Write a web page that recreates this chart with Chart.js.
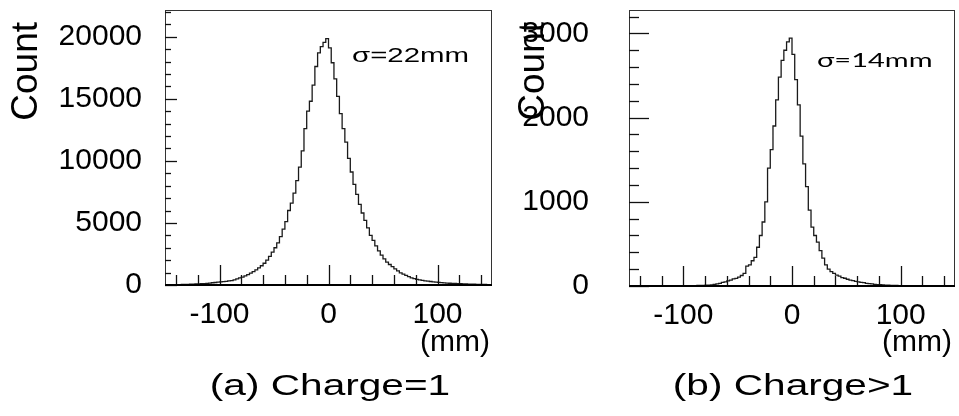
<!DOCTYPE html>
<html>
<head>
<meta charset="utf-8">
<script src="https://cdn.jsdelivr.net/npm/chart.js@4.4.1/dist/chart.umd.min.js"></script>
<style>
  html, body { margin: 0; padding: 0; background: #fff; }
  #wrap { position: relative; width: 959px; height: 416px; overflow: hidden; }
  #cA { position: absolute; left: 0; top: 0; }
  #cB { position: absolute; left: 490px; top: 0; }
</style>
</head>
<body>
<div id="wrap">
  <canvas id="cA" width="500" height="416"></canvas>
  <canvas id="cB" width="469" height="416"></canvas>
</div>
<script>
// Histogram binning: 120 bins of 2.5 mm from -150 to +150 mm
const BIN_LO = -150;
const BIN_W = 2.5;

// (a) Charge = 1 : counts per bin
const countsA = [
  10, 15, 20, 20, 25, 30, 35, 40, 50, 55,
  60, 70, 80, 90, 100, 110, 130, 150, 180, 200,
  230, 250, 270, 300, 330, 360, 410, 490, 570, 640,
  740, 840, 950, 1080, 1220, 1380, 1550, 1750, 2000, 2300,
  2650, 3000, 3400, 3900, 4500, 5100, 6000, 6600, 7400, 8400,
  9500, 10800, 12600, 14000, 14800, 16100, 17600, 18700, 19200, 19550,
  19850, 19100, 17900, 16600, 15200, 13800, 12600, 11500, 10200, 9100,
  8100, 7300, 6500, 5800, 5200, 4600, 4000, 3600, 3150, 2750,
  2400, 2100, 1850, 1650, 1480, 1300, 1140, 980, 870, 770,
  670, 580, 510, 460, 420, 380, 340, 310, 280, 250,
  230, 210, 190, 170, 150, 140, 130, 120, 110, 100,
  90, 85, 75, 70, 60, 55, 50, 45, 40, 35
];

// (b) Charge > 1 : counts per bin
const countsB = [
  0, 0, 0, 0, 0, 1, 1, 1, 1, 1,
  1, 1, 1, 2, 2, 2, 2, 3, 3, 3,
  3, 3, 4, 4, 5, 5, 6, 7, 8, 9,
  11, 14, 18, 25, 32, 42, 50, 62, 70, 85,
  90, 105, 125, 150, 235, 250, 300, 340, 460, 600,
  760, 1000, 1400, 1620, 1900, 2210, 2480, 2680, 2800, 2900,
  2945, 2750, 2450, 2150, 1780, 1450, 1180, 900, 700, 600,
  520, 420, 330, 250, 200, 170, 150, 130, 118, 100,
  92, 80, 70, 64, 55, 48, 44, 40, 32, 28,
  25, 20, 17, 15, 12, 10, 9, 8, 7, 6,
  5, 5, 4, 4, 3, 3, 3, 2, 2, 2,
  2, 1, 1, 1, 1, 1, 1, 1, 1, 0
];

// Axis ticks
const xMajor = [-100, 0, 100];
const xMinor = [-140, -120, -80, -60, -40, -20, 20, 40, 60, 80, 120, 140];
const yLabelsA = [0, 5000, 10000, 15000, 20000];
const yMinorA = [1000, 2000, 3000, 4000, 6000, 7000, 8000, 9000, 11000, 12000,
                 13000, 14000, 16000, 17000, 18000, 19000, 21000, 22000];
const yLabelsB = [0, 1000, 2000, 3000];
const yMinorB = [200, 400, 600, 800, 1200, 1400, 1600, 1800, 2200, 2400, 2600, 2800, 3200];

const FONT = "'Liberation Sans', Arial, sans-serif";

// turn bin counts into step-line vertices at the bin edges
function histPoints(counts) {
  const pts = counts.map((c, i) => ({ x: BIN_LO + i * BIN_W, y: c }));
  pts.push({ x: BIN_LO + counts.length * BIN_W, y: counts[counts.length - 1] });
  return pts;
}

// frame around the plot area plus inward-pointing major/minor ticks
const frameTicks = {
  id: 'frameTicks',
  afterDatasetsDraw(chart, args, o) {
    const { ctx, chartArea: a, scales: { x, y } } = chart;
    ctx.save();
    ctx.strokeStyle = '#333';
    ctx.lineWidth = 1;
    ctx.strokeRect(a.left + 0.5, a.top + 0.5, a.right - a.left - 1, a.bottom - a.top);
    ctx.strokeStyle = '#111';
    ctx.lineWidth = 1.3;
    const line = (x1, y1, x2, y2) => { ctx.beginPath(); ctx.moveTo(x1, y1); ctx.lineTo(x2, y2); ctx.stroke(); };
    o.yMajor.forEach(v => { const p = Math.round(y.getPixelForValue(v)) + 0.5; line(a.left, p, a.left + o.yMajorLen, p); });
    o.yMinor.forEach(v => { const p = Math.round(y.getPixelForValue(v)) + 0.5; line(a.left, p, a.left + o.yMinorLen, p); });
    o.xMajor.forEach(v => { const p = Math.round(x.getPixelForValue(v)) + 0.5; line(p, a.bottom, p, a.bottom - o.xMajorLen); });
    o.xMinor.forEach(v => { const p = Math.round(x.getPixelForValue(v)) + 0.5; line(p, a.bottom, p, a.bottom - o.xMinorLen); });
    ctx.strokeStyle = '#000';
    ctx.lineWidth = 2;
    line(a.left, a.bottom, a.right, a.bottom);
    ctx.restore();
  }
};

// free text: axis titles, width annotation, panel caption
const panelText = {
  id: 'panelText',
  afterDraw(chart, args, o) {
    const ctx = chart.ctx;
    o.items.forEach(t => {
      ctx.save();
      ctx.fillStyle = '#000';
      ctx.font = t.font;
      ctx.textAlign = t.align || 'left';
      ctx.textBaseline = t.baseline || 'alphabetic';
      ctx.translate(t.x, t.y);
      if (t.rotate) ctx.rotate(t.rotate);
      if (t.sx) ctx.scale(t.sx, 1);
      ctx.fillText(t.text, 0, 0);
      ctx.restore();
    });
  }
};

function makePanel(id, counts, p) {
  return new Chart(document.getElementById(id), {
    type: 'line',
    data: {
      datasets: [{
        data: histPoints(counts),
        stepped: 'after',
        borderColor: '#1a1a1a',
        borderWidth: 1.3,
        pointRadius: 0,
        fill: false
      }]
    },
    options: {
      responsive: false,
      animation: false,
      events: [],
      layout: { padding: p.padding },
      plugins: {
        legend: { display: false },
        tooltip: { enabled: false },
        frameTicks: {
          xMajor: xMajor, xMinor: xMinor, yMajor: p.yLabels, yMinor: p.yMinor,
          xMajorLen: 20, xMinorLen: 10, yMajorLen: p.yMajorLen, yMinorLen: p.yMinorLen
        },
        panelText: { items: p.texts }
      },
      scales: {
        x: {
          type: 'linear', min: -150, max: 150,
          grid: { display: false }, border: { display: false },
          afterBuildTicks: s => { s.ticks = xMajor.map(v => ({ value: v })); },
          afterFit: s => { s.height = p.xHeight; s.paddingLeft = 0; s.paddingRight = 0; },
          ticks: { color: '#000', font: { family: FONT, size: 30 }, padding: 4,
                   maxRotation: 0, autoSkip: false, callback: v => String(v) }
        },
        y: {
          type: 'linear', min: 0, max: p.yMax,
          grid: { display: false }, border: { display: false },
          afterBuildTicks: s => { s.ticks = p.yLabels.map(v => ({ value: v })); },
          afterFit: s => { s.width = p.yWidth; s.paddingTop = 0; s.paddingBottom = 0; },
          ticks: { color: '#000', font: { family: FONT, size: 30 }, padding: p.yPad,
                   autoSkip: false, callback: v => String(v) }
        }
      }
    },
    plugins: [frameTicks, panelText]
  });
}

makePanel('cA', countsA, {
  padding: { left: 0, right: 8, top: 10, bottom: 0 },
  yWidth: 165, xHeight: 131, yPad: 15, yMax: 22150,
  yLabels: yLabelsA, yMinor: yMinorA, yMajorLen: 12, yMinorLen: 6,
  texts: [
    { text: 'Count', x: 27, y: 22, rotate: -Math.PI / 2, align: 'right', baseline: 'middle', font: '37px ' + FONT },
    { text: 'σ=22mm', x: 352, y: 62, font: '21px ' + FONT, sx: 1.4 },
    { text: '(mm)', x: 490, y: 351, align: 'right', font: '30px ' + FONT },
    { text: '(a) Charge=1', x: 330, y: 395, align: 'center', font: '29px ' + FONT, sx: 1.4 }
  ]
});

makePanel('cB', countsB, {
  padding: { left: 0, right: 4, top: 10, bottom: 0 },
  yWidth: 139, xHeight: 130, yPad: 32, yMax: 3278,
  yLabels: yLabelsB, yMinor: yMinorB, yMajorLen: 20, yMinorLen: 10,
  texts: [
    { text: 'Count', x: 44, y: 22, rotate: -Math.PI / 2, align: 'right', baseline: 'middle', font: '37px ' + FONT },
    { text: 'σ=14mm', x: 327, y: 67, font: "20px Lato, 'Open Sans', sans-serif", sx: 1.45 },
    { text: '(mm)', x: 462, y: 351, align: 'right', font: '30px ' + FONT },
    { text: '(b) Charge>1', x: 303, y: 395, align: 'center', font: '29px ' + FONT, sx: 1.4 }
  ]
});
</script>
</body>
</html>
